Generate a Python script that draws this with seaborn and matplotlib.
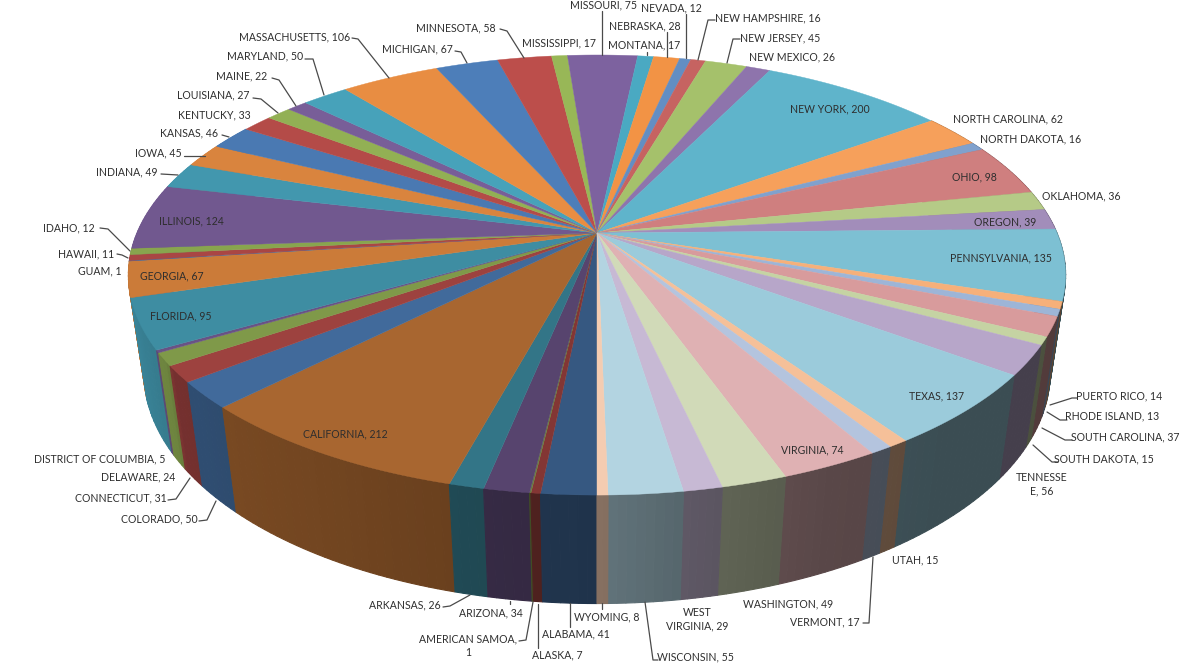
import numpy as np
import matplotlib
matplotlib.use("Agg")
import matplotlib.pyplot as plt
import seaborn as sns

# Members per state or territory
states = ["ALABAMA", "ALASKA", "AMERICAN SAMOA", "ARIZONA", "ARKANSAS", "CALIFORNIA",
          "COLORADO", "CONNECTICUT", "DELAWARE", "DISTRICT OF COLUMBIA", "FLORIDA", "GEORGIA",
          "GUAM", "HAWAII", "IDAHO", "ILLINOIS", "INDIANA", "IOWA",
          "KANSAS", "KENTUCKY", "LOUISIANA", "MAINE", "MARYLAND", "MASSACHUSETTS",
          "MICHIGAN", "MINNESOTA", "MISSISSIPPI", "MISSOURI", "MONTANA", "NEBRASKA",
          "NEVADA", "NEW HAMPSHIRE", "NEW JERSEY", "NEW MEXICO", "NEW YORK", "NORTH CAROLINA",
          "NORTH DAKOTA", "OHIO", "OKLAHOMA", "OREGON", "PENNSYLVANIA", "PUERTO RICO",
          "RHODE ISLAND", "SOUTH CAROLINA", "SOUTH DAKOTA", "TENNESSEE", "TEXAS", "UTAH",
          "VERMONT", "VIRGINIA", "WASHINGTON", "WEST VIRGINIA", "WISCONSIN", "WYOMING"]
counts = [41, 7, 1, 34, 26, 212,
          50, 31, 24, 5, 95, 67,
          1, 11, 12, 124, 49, 45,
          46, 33, 27, 22, 50, 106,
          67, 58, 17, 75, 17, 28,
          12, 16, 45, 26, 200, 62,
          16, 98, 36, 39, 135, 14,
          13, 37, 15, 56, 137, 15,
          17, 74, 49, 29, 55, 8]

# Label text overrides where a name wraps onto two lines
wrapped = {"AMERICAN SAMOA": "AMERICAN SAMOA,\n{}",
           "TENNESSEE": "TENNESSE\nE, {}",
           "WEST VIRGINIA": "WEST\nVIRGINIA, {}"}

# Label centres, pixels from the top-left corner
label_xy = [(576, 634), (557, 655), (468, 646), (491, 613), (405, 605), (345, 434),
            (159, 519), (121, 498), (138, 477), (100, 459), (181, 316), (172, 276),
            (100, 271), (86, 254), (69, 228), (191, 221), (127, 172), (158, 153),
            (189, 133), (214, 115), (213, 95), (242, 76), (265, 56), (295, 37),
            (417, 49), (456, 28), (559, 43), (603, 5), (644, 45), (645, 26),
            (671, 8), (768, 18), (780, 38), (792, 57), (830, 109), (1008, 119),
            (1031, 139), (974, 177), (1081, 196), (1005, 222), (1001, 258), (1119, 396),
            (1112, 416), (1125, 437), (1104, 459), (1042, 484), (937, 396), (915, 560),
            (825, 622), (812, 450), (788, 604), (697, 619), (695, 657), (607, 617)]

# Leader lines, pixels from the top-left corner
leaders = [[(602, 11), (602, 55)], [(686, 14), (686, 58)], [(667, 32), (667, 57)],
           [(647, 52), (647, 55)], [(715, 20), (708, 20), (698, 60)],
           [(740, 39), (733, 39), (727, 63)], [(500, 29), (507, 31), (524, 58)],
           [(455, 51), (461, 52), (467, 63)], [(352, 38), (358, 39), (389, 78)],
           [(305, 59), (313, 59), (324, 95)], [(272, 78), (279, 80), (296, 106)],
           [(253, 98), (261, 99), (278, 113)], [(222, 135), (229, 137)],
           [(184, 156), (205, 156)], [(161, 174), (178, 175)],
           [(100, 228), (108, 229), (130, 251)], [(117, 254), (122, 255), (128, 258)],
           [(199, 521), (207, 520), (216, 501)], [(168, 500), (176, 499), (190, 478)],
           [(443, 607), (450, 606), (470, 595)], [(510, 601), (510, 604)],
           [(519, 641), (526, 640), (533, 602)], [(538, 648), (538, 604)],
           [(570, 627), (570, 603)], [(602, 609), (602, 603)],
           [(658, 660), (653, 660), (645, 602)], [(863, 623), (869, 623), (873, 557)],
           [(1077, 398), (1072, 398), (1050, 405)], [(1067, 420), (1060, 420), (1047, 412)],
           [(1072, 440), (1065, 440), (1042, 428)], [(1058, 462), (1052, 462), (1033, 445)]]

sns.set_theme(style="white")
plt.rcParams["font.family"] = ["Lato", "DejaVu Sans"]

# Six accent hues, run through nine shades from dark to light
accents = sns.color_palette(["#4F81BD", "#C0504D", "#9BBB59", "#8064A2", "#4BACC6", "#F79646"])
shades = [0.68, 0.82, 0.88, 0.94, 0.98, -0.12, -0.30, -0.48, -0.62]
TINT = np.array([0.95, 0.93, 0.95])


def slice_colour(i):
    base = np.array(accents[i % 6])
    s = shades[i // 6]
    return base * s if s > 0 else base + (TINT - base) * (-s)


# Perspective view of the disc: u to the right, v to the back, z down to the base
CX, CY, AX, BX, DEPTH, PERSP, SINK = 597.0, 233.0, 460.0, 212.0, 100.0, 0.191, 0.033


def project(t, z=0.0):
    u, v = -np.sin(t), -np.cos(t)
    w = 1 + PERSP * v + SINK * z
    return CX + AX * u / w, CY + (-BX * v + DEPTH * z) / w


def wall_light(deg):
    # Rim brightness falls off from the left side round to the front and right
    return np.interp(deg, [0, 30, 55, 57, 75, 95, 180, 270, 290, 320, 335, 350, 360],
                     [0.58, 0.68, 0.74, 0.86, 0.95, 1.0, 1.0, 0.5, 0.38, 0.38, 0.40, 0.47, 0.55])


fig, ax = plt.subplots(figsize=(11.87, 6.67), dpi=100)
fig.subplots_adjust(0, 0, 1, 1)
ax.set_xlim(0, 1187)
ax.set_ylim(667, 0)
ax.axis("off")

edges = np.concatenate([[0], np.cumsum(counts)]) / np.sum(counts) * 2 * np.pi

# Side wall first, in narrow bands so the light can vary along the rim;
# bands nearer the front are painted over those further back
bands = []
for i in range(len(counts)):
    deg0, deg1 = np.degrees(edges[i]), np.degrees(edges[i + 1])
    if 120 < deg0 and deg1 < 240:
        continue
    steps = max(2, int(deg1 - deg0) + 2)
    ts = np.linspace(edges[i], edges[i + 1], steps)
    bands.extend((a, b, i) for a, b in zip(ts[:-1], ts[1:]))
bands.sort(key=lambda band: -(-np.cos((band[0] + band[1]) / 2)))

for a, b, i in bands:
    tt = np.array([a, b])
    x0, y0 = project(tt, 0.0)
    x1, y1 = project(tt[::-1], 1.0)
    shade = slice_colour(i) * wall_light(np.degrees((a + b) / 2))
    ax.fill(np.r_[x0, x1], np.r_[y0, y1], color=shade, lw=0.8, zorder=2)

# Top face
for i in range(len(counts)):
    tt = np.linspace(edges[i], edges[i + 1], 40)
    x, y = project(tt)
    ax.fill(np.r_[CX, x], np.r_[CY, y], color=slice_colour(i), lw=0.3, zorder=3)

for pts in leaders:
    xs, ys = zip(*pts)
    ax.plot(xs, ys, color="#4a4a4a", lw=0.9, zorder=4)

for name, n, (x, y) in zip(states, counts, label_xy):
    text = wrapped.get(name, name + ", {}").format(n)
    ax.text(x, y, text, ha="center", va="center", fontsize=7.6, color="#2e2e2e",
            linespacing=1.3, zorder=5)

fig.savefig("out.png", dpi=100, facecolor="white")
